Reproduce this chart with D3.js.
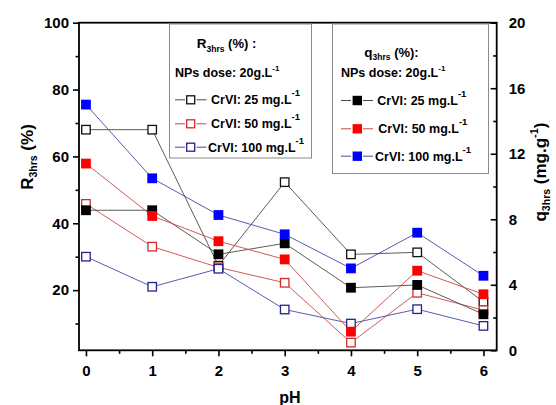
<!DOCTYPE html>
<html>
<head>
<meta charset="utf-8">
<script src="https://cdn.jsdelivr.net/npm/d3@7"></script>
<style>
  html, body { margin: 0; padding: 0; background: #fff; }
  svg { display: block; font-family: "Liberation Sans", Arial, sans-serif; font-weight: bold; }
</style>
</head>
<body>
<svg id="chart" width="556" height="405"></svg>
<script>
// pH values on the x axis
const pH = [0, 1, 2, 3, 4, 5, 6];

// Removal efficiency after 3 h, R3hrs (%), left axis (open squares)
const R25  = [68.0, 68.0, 27.3, 52.3, 30.7, 31.3, 16.5];
const R50  = [45.8, 33.0, 26.8, 22.2, 4.3, 19.2, 14.0];
const R100 = [30.0, 21.0, 26.4, 14.2, 10.0, 14.3, 9.3];

// Adsorbed amount after 3 h, q3hrs (mg/g), right axis (filled squares)
const q25  = [8.55, 8.55, 5.86, 6.53, 3.82, 3.99, 2.2];
const q50  = [11.4, 8.2, 6.66, 5.55, 1.14, 4.86, 3.42];
const q100 = [15.0, 10.5, 8.26, 7.08, 5.0, 7.18, 4.55];

// Tick values
const xMajor = [0, 1, 2, 3, 4, 5, 6];
const xMinor = [0.5, 1.5, 2.5, 3.5, 4.5, 5.5];
const rMajor = [20, 40, 60, 80, 100];
const rMinor = [10, 30, 50, 70, 90];
const qMajor = [0, 4, 8, 12, 16, 20];
const qMinor = [2, 6, 10, 14, 18];

const concLabels = ["CrVI: 25 mg.L", "CrVI: 50 mg.L", "CrVI: 100 mg.L"];

const svg = d3.select("#chart");
const L = 79, R = 496.7, T = 22.7, B = 350.3;

const x  = d3.scaleLinear().domain([-0.105, 6.2]).range([L, R]);
const yR = d3.scaleLinear().domain([2, 100]).range([B, T]);
const yQ = d3.scaleLinear().domain([0, 20]).range([B, T]);

const lineCol  = ["#4a4a4a", "#c84848", "#4848a8"];
const openCol  = ["#111111", "#d42a2a", "#22228a"];
const fillCol  = ["#000000", "#ff0000", "#0000ff"];

// ---- axes ----
const fmt = d3.format("d");
const bottomAxis = g => g.call(d3.axisBottom(x).tickValues(xMajor).tickFormat(fmt).tickSize(6).tickPadding(5));
const gx = svg.append("g").attr("transform", `translate(0,${B})`).call(bottomAxis);
svg.append("g").attr("transform", `translate(0,${B})`)
  .call(d3.axisBottom(x).tickValues(xMinor).tickFormat("").tickSize(3.5));

const gl = svg.append("g").attr("transform", `translate(${L},0)`)
  .call(d3.axisLeft(yR).tickValues(rMajor).tickFormat(fmt).tickSize(6).tickPadding(4));
svg.append("g").attr("transform", `translate(${L},0)`)
  .call(d3.axisLeft(yR).tickValues(rMinor).tickFormat("").tickSize(3.5));

// right axis: ticks point into the plot, labels sit outside
const gr = svg.append("g").attr("transform", `translate(${R},0)`)
  .call(d3.axisRight(yQ).tickValues(qMajor).tickFormat(fmt).tickSize(-6).tickPadding(12));
svg.append("g").attr("transform", `translate(${R},0)`)
  .call(d3.axisRight(yQ).tickValues(qMinor).tickFormat("").tickSize(-3.5));

svg.selectAll(".domain").remove();
svg.selectAll(".tick line").attr("stroke", "#000").attr("stroke-width", 1.6);
svg.selectAll(".tick text").attr("fill", "#000")
  .style("font-size", "15px").style("font-weight", "bold")
  .style("font-family", "'Liberation Sans', Arial, sans-serif");
gx.selectAll(".tick text").attr("dy", "0.95em");

// frame: left, bottom, right and top lines
svg.append("rect").attr("x", L).attr("y", T).attr("width", R - L).attr("height", B - T)
  .attr("fill", "none").attr("stroke", "#000").attr("stroke-width", 1.8);

// ---- legend boxes (drawn under the data) ----
const leg = svg.append("g");
leg.append("rect").attr("x", 169.5).attr("y", 24).attr("width", 142).attr("height", 134)
  .attr("fill", "#fff").attr("stroke", "#8a8a8a").attr("stroke-width", 1);
leg.append("rect").attr("x", 332.5).attr("y", 24).attr("width", 156).attr("height", 149.5)
  .attr("fill", "#fff").attr("stroke", "#8a8a8a").attr("stroke-width", 1);

// ---- data ----
const plot = svg.append("g");
const lineGen = (scale, vals) => d3.line().x((d, i) => x(pH[i])).y(d => scale(d))(vals);
const sq = 8.5;

const Rsets = [R25, R50, R100];
const Qsets = [q25, q50, q100];

Rsets.forEach((vals, k) => {
  plot.append("path").attr("d", lineGen(yR, vals)).attr("fill", "none")
    .attr("stroke", lineCol[k]).attr("stroke-width", 0.9);
});
Qsets.forEach((vals, k) => {
  plot.append("path").attr("d", lineGen(yQ, vals)).attr("fill", "none")
    .attr("stroke", lineCol[k]).attr("stroke-width", 0.9);
});
Rsets.forEach((vals, k) => {
  plot.selectAll(null).data(vals).enter().append("rect")
    .attr("x", (d, i) => x(pH[i]) - sq / 2).attr("y", d => yR(d) - sq / 2)
    .attr("width", sq).attr("height", sq)
    .attr("fill", "#fff").attr("stroke", openCol[k]).attr("stroke-width", 1.3);
});
Qsets.forEach((vals, k) => {
  plot.selectAll(null).data(vals).enter().append("rect")
    .attr("x", (d, i) => x(pH[i]) - (sq + 1.3) / 2).attr("y", d => yQ(d) - (sq + 1.3) / 2)
    .attr("width", sq + 1.3).attr("height", sq + 1.3)
    .attr("fill", fillCol[k]).attr("stroke", "none");
});

// ---- legend contents ----
function subText(g, xx, yy, parts, anchor) {
  const t = g.append("text").attr("x", xx).attr("y", yy).attr("text-anchor", anchor || "start")
    .attr("fill", "#000");
  parts.forEach(p => {
    const ts = t.append("tspan").text(p.t).style("font-size", p.s + "px");
    if (p.dy) ts.attr("dy", p.dy);
  });
  return t;
}
const fs = 12.5;
subText(leg, 226.5, 48.3, [{t: "R", s: 13.5}, {t: "3hrs", s: 8.5, dy: 3.5}, {t: " (%) :", s: 13, dy: -3.5}], "middle");
subText(leg, 175, 76.7, [{t: "NPs dose: 20g.L", s: fs}, {t: "-1", s: 8, dy: -6}]);
subText(leg, 391.5, 56.7, [{t: "q", s: 13.5}, {t: "3hrs", s: 8.5, dy: 3.5}, {t: " (%):", s: 13, dy: -3.5}], "middle");
subText(leg, 341, 77.3, [{t: "NPs dose: 20g.L", s: fs}, {t: "-1", s: 8, dy: -6}]);

const ent1 = [{y: 104.3, tx: 211}, {y: 128.3, tx: 211}, {y: 151.7, tx: 208}];
const ent2 = [{y: 105, tx: 377.3}, {y: 133.3, tx: 378.3}, {y: 160.7, tx: 375}];
ent1.forEach((e, k) => {
  const cy = e.y - 4.5;
  leg.append("line").attr("x1", 175).attr("x2", 185).attr("y1", cy).attr("y2", cy).attr("stroke", lineCol[k]).attr("stroke-width", 1);
  leg.append("line").attr("x1", 196.5).attr("x2", 206.5).attr("y1", cy).attr("y2", cy).attr("stroke", lineCol[k]).attr("stroke-width", 1);
  leg.append("rect").attr("x", 190.7 - 4).attr("y", cy - 4).attr("width", 8).attr("height", 8)
    .attr("fill", "#fff").attr("stroke", openCol[k]).attr("stroke-width", 1.3);
  subText(leg, e.tx, e.y, [{t: concLabels[k], s: fs}, {t: "-1", s: 9.5, dy: -8}]);
});
ent2.forEach((e, k) => {
  const cy = e.y - 4.5;
  leg.append("line").attr("x1", 341).attr("x2", 351).attr("y1", cy).attr("y2", cy).attr("stroke", lineCol[k]).attr("stroke-width", 1);
  leg.append("line").attr("x1", 363).attr("x2", 373).attr("y1", cy).attr("y2", cy).attr("stroke", lineCol[k]).attr("stroke-width", 1);
  leg.append("rect").attr("x", 357.3 - 4.7).attr("y", cy - 4.7).attr("width", 9.4).attr("height", 9.4)
    .attr("fill", fillCol[k]);
  subText(leg, e.tx, e.y, [{t: concLabels[k], s: fs}, {t: "-1", s: 9.5, dy: -8}]);
});

// ---- axis titles ----
subText(svg, 290, 403, [{t: "pH", s: 16}], "middle");
subText(svg, 0, 0, [{t: "R", s: 17}, {t: "3hrs", s: 10.5, dy: 4}, {t: " (%)", s: 17, dy: -4}], "middle")
  .attr("transform", "translate(33,157) rotate(-90)");
subText(svg, 0, 0, [{t: "q", s: 17}, {t: "3hrs", s: 10.5, dy: 4}, {t: " (mg.g", s: 17, dy: -4}, {t: "-1", s: 11, dy: -8}, {t: ")", s: 17, dy: 8}], "middle")
  .attr("transform", "translate(546,172) rotate(-90)");
</script>
</body>
</html>
